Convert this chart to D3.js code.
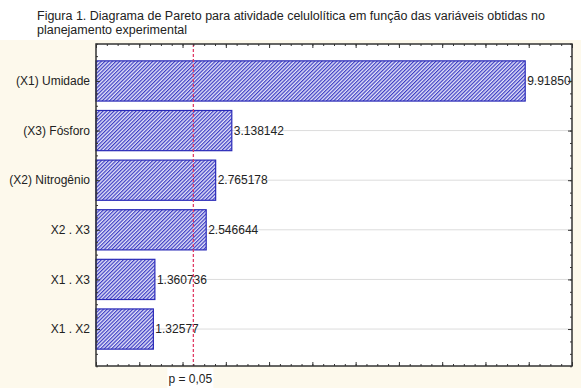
<!DOCTYPE html>
<html>
<head>
<meta charset="utf-8">
<script src="https://cdn.jsdelivr.net/npm/d3@7"></script>
<style>
  body { margin: 0; background: #fff; }
  text { font-family: Arial, "Liberation Sans", sans-serif; }
</style>
</head>
<body>
<svg id="chart" width="581" height="388"></svg>
<script>
// Data
const effects = ["(X1) Umidade", "(X3) Fósforo", "(X2) Nitrogênio", "X2 . X3", "X1 . X3", "X1 . X2"];
const tValues = [9.918504, 3.138142, 2.765178, 2.546644, 1.360736, 1.32577];
const pLimit = 2.25;
const pLabel = "p = 0,05";
const titleLines = [
  "Figura 1. Diagrama de Pareto para atividade celulolítica em função das variáveis obtidas no",
  "planejamento experimental"
];

const svg = d3.select("#chart");
const plot = { left: 96, right: 572, top: 44, bottom: 366 };

// cream background below the title
svg.append("rect").attr("x", 0).attr("y", 40).attr("width", 581).attr("height", 348).attr("fill", "#fdf9ec");

// title
svg.selectAll(".title")
  .data(titleLines)
  .enter()
  .append("text")
  .attr("x", 37)
  .attr("y", (d, i) => 20 + i * 14)
  .attr("font-size", 12.5)
  .attr("fill", "#222")
  .text(d => d);

// plot area
svg.append("rect")
  .attr("x", plot.left).attr("y", plot.top)
  .attr("width", plot.right - plot.left).attr("height", plot.bottom - plot.top)
  .attr("fill", "#fff");

// scales
const x = d3.scaleLinear().domain([0, 11]).range([plot.left, plot.right]);
const y = d3.scaleBand()
  .domain(effects)
  .range([plot.top, plot.bottom])
  .paddingInner(0.19)
  .paddingOuter(0.34);
const yc = d => y(d) + y.bandwidth() / 2;
// linear helper for minor ticks on vertical axes
const yl = d3.scaleLinear().domain([0, effects.length - 1]).range([yc(effects[0]), yc(effects[effects.length - 1])]);

// hatch pattern
const defs = svg.append("defs");
const pat = defs.append("pattern")
  .attr("id", "hatch")
  .attr("patternUnits", "userSpaceOnUse")
  .attr("width", 2.6).attr("height", 2.6)
  .attr("patternTransform", "rotate(45)");
pat.append("rect").attr("width", 2.6).attr("height", 2.6).attr("fill", "#e4e4f8");
pat.append("line").attr("x1", 0.6).attr("x2", 0.6).attr("y1", 0).attr("y2", 2.6)
  .attr("stroke", "#3c3cc4").attr("stroke-width", 1.2);

defs.append("clipPath").attr("id", "clip")
  .append("rect")
  .attr("x", plot.left).attr("y", plot.top)
  .attr("width", plot.right - plot.left - 1).attr("height", plot.bottom - plot.top);

// grid lines at category centers
svg.append("g")
  .selectAll("line")
  .data(effects)
  .enter()
  .append("line")
  .attr("x1", plot.left).attr("x2", plot.right)
  .attr("y1", d => yc(d)).attr("y2", d => yc(d))
  .attr("stroke", "#dcdcdc").attr("stroke-width", 1);

// bars
svg.append("g")
  .selectAll("rect")
  .data(tValues)
  .enter()
  .append("rect")
  .attr("x", x(0))
  .attr("y", (d, i) => y(effects[i]))
  .attr("width", d => x(d) - x(0))
  .attr("height", y.bandwidth())
  .attr("fill", "url(#hatch)")
  .attr("stroke", "#2a2ab8")
  .attr("stroke-width", 1.2);

// value labels
svg.append("g")
  .attr("clip-path", "url(#clip)")
  .selectAll("text")
  .data(tValues)
  .enter()
  .append("text")
  .attr("x", d => x(d) + 2)
  .attr("y", (d, i) => yc(effects[i]))
  .attr("dy", "0.35em")
  .attr("font-size", 12)
  .attr("fill", "#222")
  .text(d => String(d));

// p = 0.05 line
svg.append("line")
  .attr("x1", x(pLimit)).attr("x2", x(pLimit))
  .attr("y1", plot.top).attr("y2", plot.bottom)
  .attr("stroke", "#e03c66").attr("stroke-width", 1.3)
  .attr("stroke-dasharray", "3,2");

// axes with inward ticks
const majorX = d3.range(0, 12, 1);
const minorX = d3.range(0, 11.01, 0.25);
const minorY = d3.range(-0.75, effects.length - 0.2, 0.25);

function styleAxis(g) {
  g.select(".domain").remove();
  g.selectAll(".tick line").attr("stroke", "#333");
}

[[d3.axisBottom, plot.bottom], [d3.axisTop, plot.top]].forEach(([ax, pos]) => {
  svg.append("g").attr("transform", "translate(0," + pos + ")")
    .call(ax(x).tickValues(minorX).tickSize(-2).tickFormat(""))
    .call(styleAxis);
  svg.append("g").attr("transform", "translate(0," + pos + ")")
    .call(ax(x).tickValues(majorX).tickSize(-4).tickFormat(""))
    .call(styleAxis);
});

[[d3.axisLeft, plot.left], [d3.axisRight, plot.right]].forEach(([ax, pos]) => {
  svg.append("g").attr("transform", "translate(" + pos + ",0)")
    .call(ax(yl).tickValues(minorY).tickSize(-2).tickFormat(""))
    .call(styleAxis);
  svg.append("g").attr("transform", "translate(" + pos + ",0)")
    .call(ax(yl).tickValues(d3.range(effects.length)).tickSize(-4).tickFormat(""))
    .call(styleAxis);
});

// frame
svg.append("rect")
  .attr("x", plot.left).attr("y", plot.top)
  .attr("width", plot.right - plot.left).attr("height", plot.bottom - plot.top)
  .attr("fill", "none").attr("stroke", "#333").attr("stroke-width", 1.5);

// category labels
svg.append("g")
  .selectAll("text")
  .data(effects)
  .enter()
  .append("text")
  .attr("x", plot.left - 6)
  .attr("y", d => yc(d))
  .attr("dy", "0.35em")
  .attr("text-anchor", "end")
  .attr("font-size", 12)
  .attr("fill", "#222")
  .text(d => d);

// p label under the axis
svg.append("rect")
  .attr("x", x(pLimit) - 26).attr("y", plot.bottom + 2)
  .attr("width", 46).attr("height", 20)
  .attr("fill", "#fff");
svg.append("text")
  .attr("x", x(pLimit) - 3)
  .attr("y", plot.bottom + 17)
  .attr("text-anchor", "middle")
  .attr("font-size", 12)
  .attr("fill", "#222")
  .text(pLabel);
</script>
</body>
</html>
